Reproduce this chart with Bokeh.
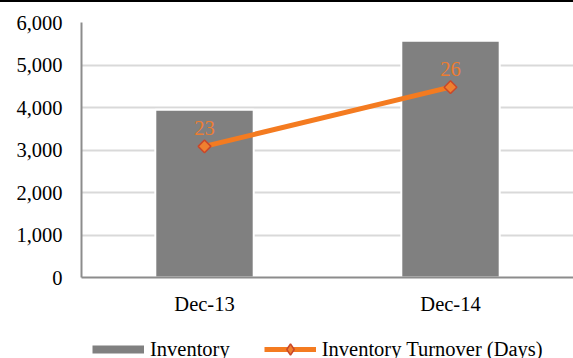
from bokeh.plotting import figure
from bokeh.models import (ColumnDataSource, Range1d, FactorRange, NumeralTickFormatter,
                          FixedTicker, Legend, LegendItem, LabelSet, Div)
from bokeh.core.properties import value
from bokeh.layouts import column
from bokeh.embed import file_html
from bokeh.resources import INLINE
import math

categories = ["Dec-13", "Dec-14"]
inventory = [3950, 5570]
turnover_days = [23.2, 26.45]
y_ticks = [0, 1000, 2000, 3000, 4000, 5000, 6000]
series_names = ["Inventory", "Inventory Turnover (Days)"]

FONT = "Liberation Serif"
FS = "20.5px"
ORANGE = "#F47B20"
GRAY = "#808080"
MK_FILL = "#F08030"
MK_LINE = "#C9472A"

src = ColumnDataSource(dict(
    cat=categories,
    inv=inventory,
    days=turnover_days,
    lbl=[f"{v:.0f}" for v in turnover_days],
))

# ---- main chart ----
p = figure(width=573, height=316, x_range=FactorRange(*categories),
           y_range=Range1d(0, 6000), output_backend="svg", toolbar_location=None,
           min_border_left=81, min_border_right=0, min_border_top=20, min_border_bottom=41,
           margin=0)
p.extra_y_ranges = {"days": Range1d(16, 30)}
p.outline_line_color = None
p.background_fill_color = "white"
p.border_fill_color = "white"

p.vbar(x="cat", top="inv", width=0.4, source=src, fill_color=GRAY,
       line_color="white", line_width=2)
p.line(x="cat", y="days", source=src, y_range_name="days",
       line_color=ORANGE, line_width=5)
p.scatter(x="cat", y="days", source=src, y_range_name="days", marker="square",
          angle=math.pi / 4, size=9, fill_color=MK_FILL, line_color=MK_LINE,
          line_width=1.5)
labels = LabelSet(x="cat", y="days", text="lbl", source=src, y_range_name="days",
                  text_align="center", text_baseline="alphabetic", y_offset=11,
                  text_font=value(FONT), text_font_size=value(FS),
                  text_color=value("#ED7D31"))
p.add_layout(labels)

p.xgrid.grid_line_color = None
p.ygrid.grid_line_color = "#d9d9d9"
p.ygrid.grid_line_width = 2
p.yaxis.ticker = FixedTicker(ticks=y_ticks)
p.yaxis.formatter = NumeralTickFormatter(format="0,0")
for ax in (p.xaxis, p.yaxis):
    ax.axis_line_color = "#8c8c8c"
    ax.axis_line_width = 2
    ax.major_tick_line_color = None
    ax.minor_tick_line_color = None
    ax.major_tick_in = 0
    ax.major_tick_out = 0
    ax.major_label_text_font = FONT
    ax.major_label_text_font_size = FS
    ax.major_label_text_color = "black"
p.yaxis.major_label_standoff = 19
p.xaxis.major_label_standoff = 15

# ---- legend strip ----
lg = figure(width=573, height=40, x_range=Range1d(0, 1), y_range=Range1d(0, 1),
            x_axis_type=None, y_axis_type=None,
            output_backend="svg", toolbar_location=None, margin=0,
            min_border_left=0, min_border_right=0, min_border_top=0, min_border_bottom=0)
lg.grid.grid_line_color = None
lg.outline_line_color = None
lg.background_fill_color = "white"
lg.border_fill_color = "white"
nan = float("nan")
r_inv = lg.line(x=[nan], y=[nan], line_color=GRAY, line_width=8)
r_ln = lg.line(x=[nan], y=[nan], line_color=ORANGE, line_width=5)
r_mk = lg.scatter(x=[nan], y=[nan], marker="diamond", size=12,
                  fill_color=MK_FILL, line_color=MK_LINE, line_width=1.5)
legend = Legend(items=[LegendItem(label=series_names[0], renderers=[r_inv]),
                       LegendItem(label=series_names[1], renderers=[r_ln, r_mk])],
                orientation="horizontal", location=(11, -5),
                label_text_font=FONT, label_text_font_size=FS, label_text_color="black",
                glyph_width=52, glyph_height=28, label_standoff=6, spacing=34,
                border_line_color=None, background_fill_alpha=0,
                padding=0, margin=0)
lg.add_layout(legend)

top = Div(width=573, height=2, margin=0, styles={"background-color": "black"})
layout = column(top, p, lg, spacing=0)

open("out.html", "w").write(file_html(layout, INLINE))
